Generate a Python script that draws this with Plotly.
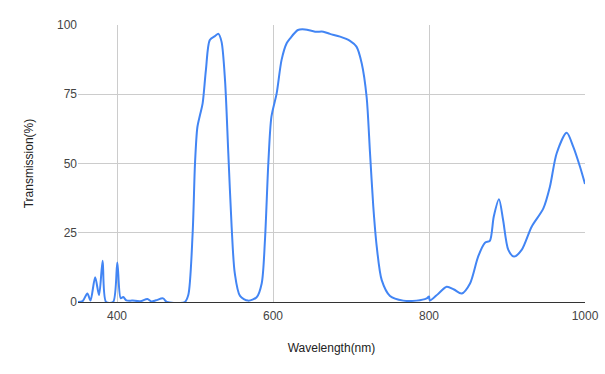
import plotly.graph_objects as go

wavelength = [350, 356, 362, 366, 372, 377, 381.6, 386, 395, 400.4, 404.7, 408, 412, 420, 430,
              439, 444, 450, 459, 464, 487, 491.4, 497, 500, 503, 506.4, 509.8, 514, 519, 525.6,
              530, 534, 538.5, 542.7, 547, 551, 557.7, 568, 579, 585.5, 589.7, 594, 598, 604.7,
              611, 617.5, 622, 632, 641, 654, 664.5, 673, 686, 698.7, 707, 713.7, 720, 724.4,
              728.6, 733, 739.4, 750, 767, 784, 797, 800, 801, 812, 822.7, 832, 842, 852.6, 863,
              871.8, 878, 883, 889.7, 895, 901.7, 909, 918.8, 931.6, 946.6, 955, 963.7, 976.5,
              985, 993.6, 1000]
transmission = [0, 0.3, 3.1, 0.5, 8.9, 2.5, 14.9, 0, 0, 14.3, 1.4, 1.8, 0.6, 0.5, 0.3,
                1.1, 0.2, 0.6, 1.3, 0, 0, 2.5, 25, 50, 63, 67.5, 71.7, 83.8, 94.6, 96,
                96.8, 94, 80, 53.7, 27, 10.4, 2.2, 0.5, 1.7, 6.7, 22.4, 50, 66.9, 75.3,
                87.4, 93.4, 95.2, 98.2, 98.4, 97.6, 97.6, 96.8, 95.8, 94.3, 92.2, 86.2, 74.1, 53.7,
                34.4, 20, 7.9, 2.2, 0.5, 0.5, 1.3, 2, 0.5, 3, 5.5, 4.5, 3.1, 6.7, 16.4,
                21.4, 22.1, 30.8, 37.1, 29.6, 18.8, 16.4, 18.8, 27.2, 33.8, 41.6, 53.7, 61.1,
                56, 48.8, 42.6]

x_ticks = [400, 600, 800, 1000]
y_ticks = [0, 25, 50, 75, 100]

fig = go.Figure(go.Scatter(
    x=wavelength, y=transmission, mode="lines",
    line=dict(color="#4285F4", width=2, shape="spline", smoothing=0.8),
    showlegend=False, hoverinfo="skip"))

font = "Liberation Sans, Arial, sans-serif"
fig.update_layout(
    width=605, height=374,
    margin=dict(l=78, r=20, t=25, b=72, autoexpand=False),
    paper_bgcolor="white", plot_bgcolor="white",
    font=dict(family=font, size=12, color="#222"),
    xaxis=dict(range=[350, 1000], tickvals=x_ticks, ticktext=[str(v) for v in x_ticks],
               showgrid=True, gridcolor="#cccccc", gridwidth=1, automargin=False,
               showline=True, linecolor="#333333", linewidth=1, zeroline=False,
               ticks="", ticklabelstandoff=3, tickfont=dict(size=12, color="#444"),
               title=dict(text="Wavelength(nm)", font=dict(size=12, color="#222"), standoff=21)),
    yaxis=dict(range=[0, 100], tickvals=y_ticks, ticktext=[str(v) for v in y_ticks],
               showgrid=True, gridcolor="#cccccc", gridwidth=1, automargin=False,
               zeroline=False, showline=False, ticks="",
               tickfont=dict(size=12, color="#444"),
               title=dict(text="Transmission(%)", font=dict(size=12, color="#222"), standoff=20)),
)

fig.write_html("out.html")
